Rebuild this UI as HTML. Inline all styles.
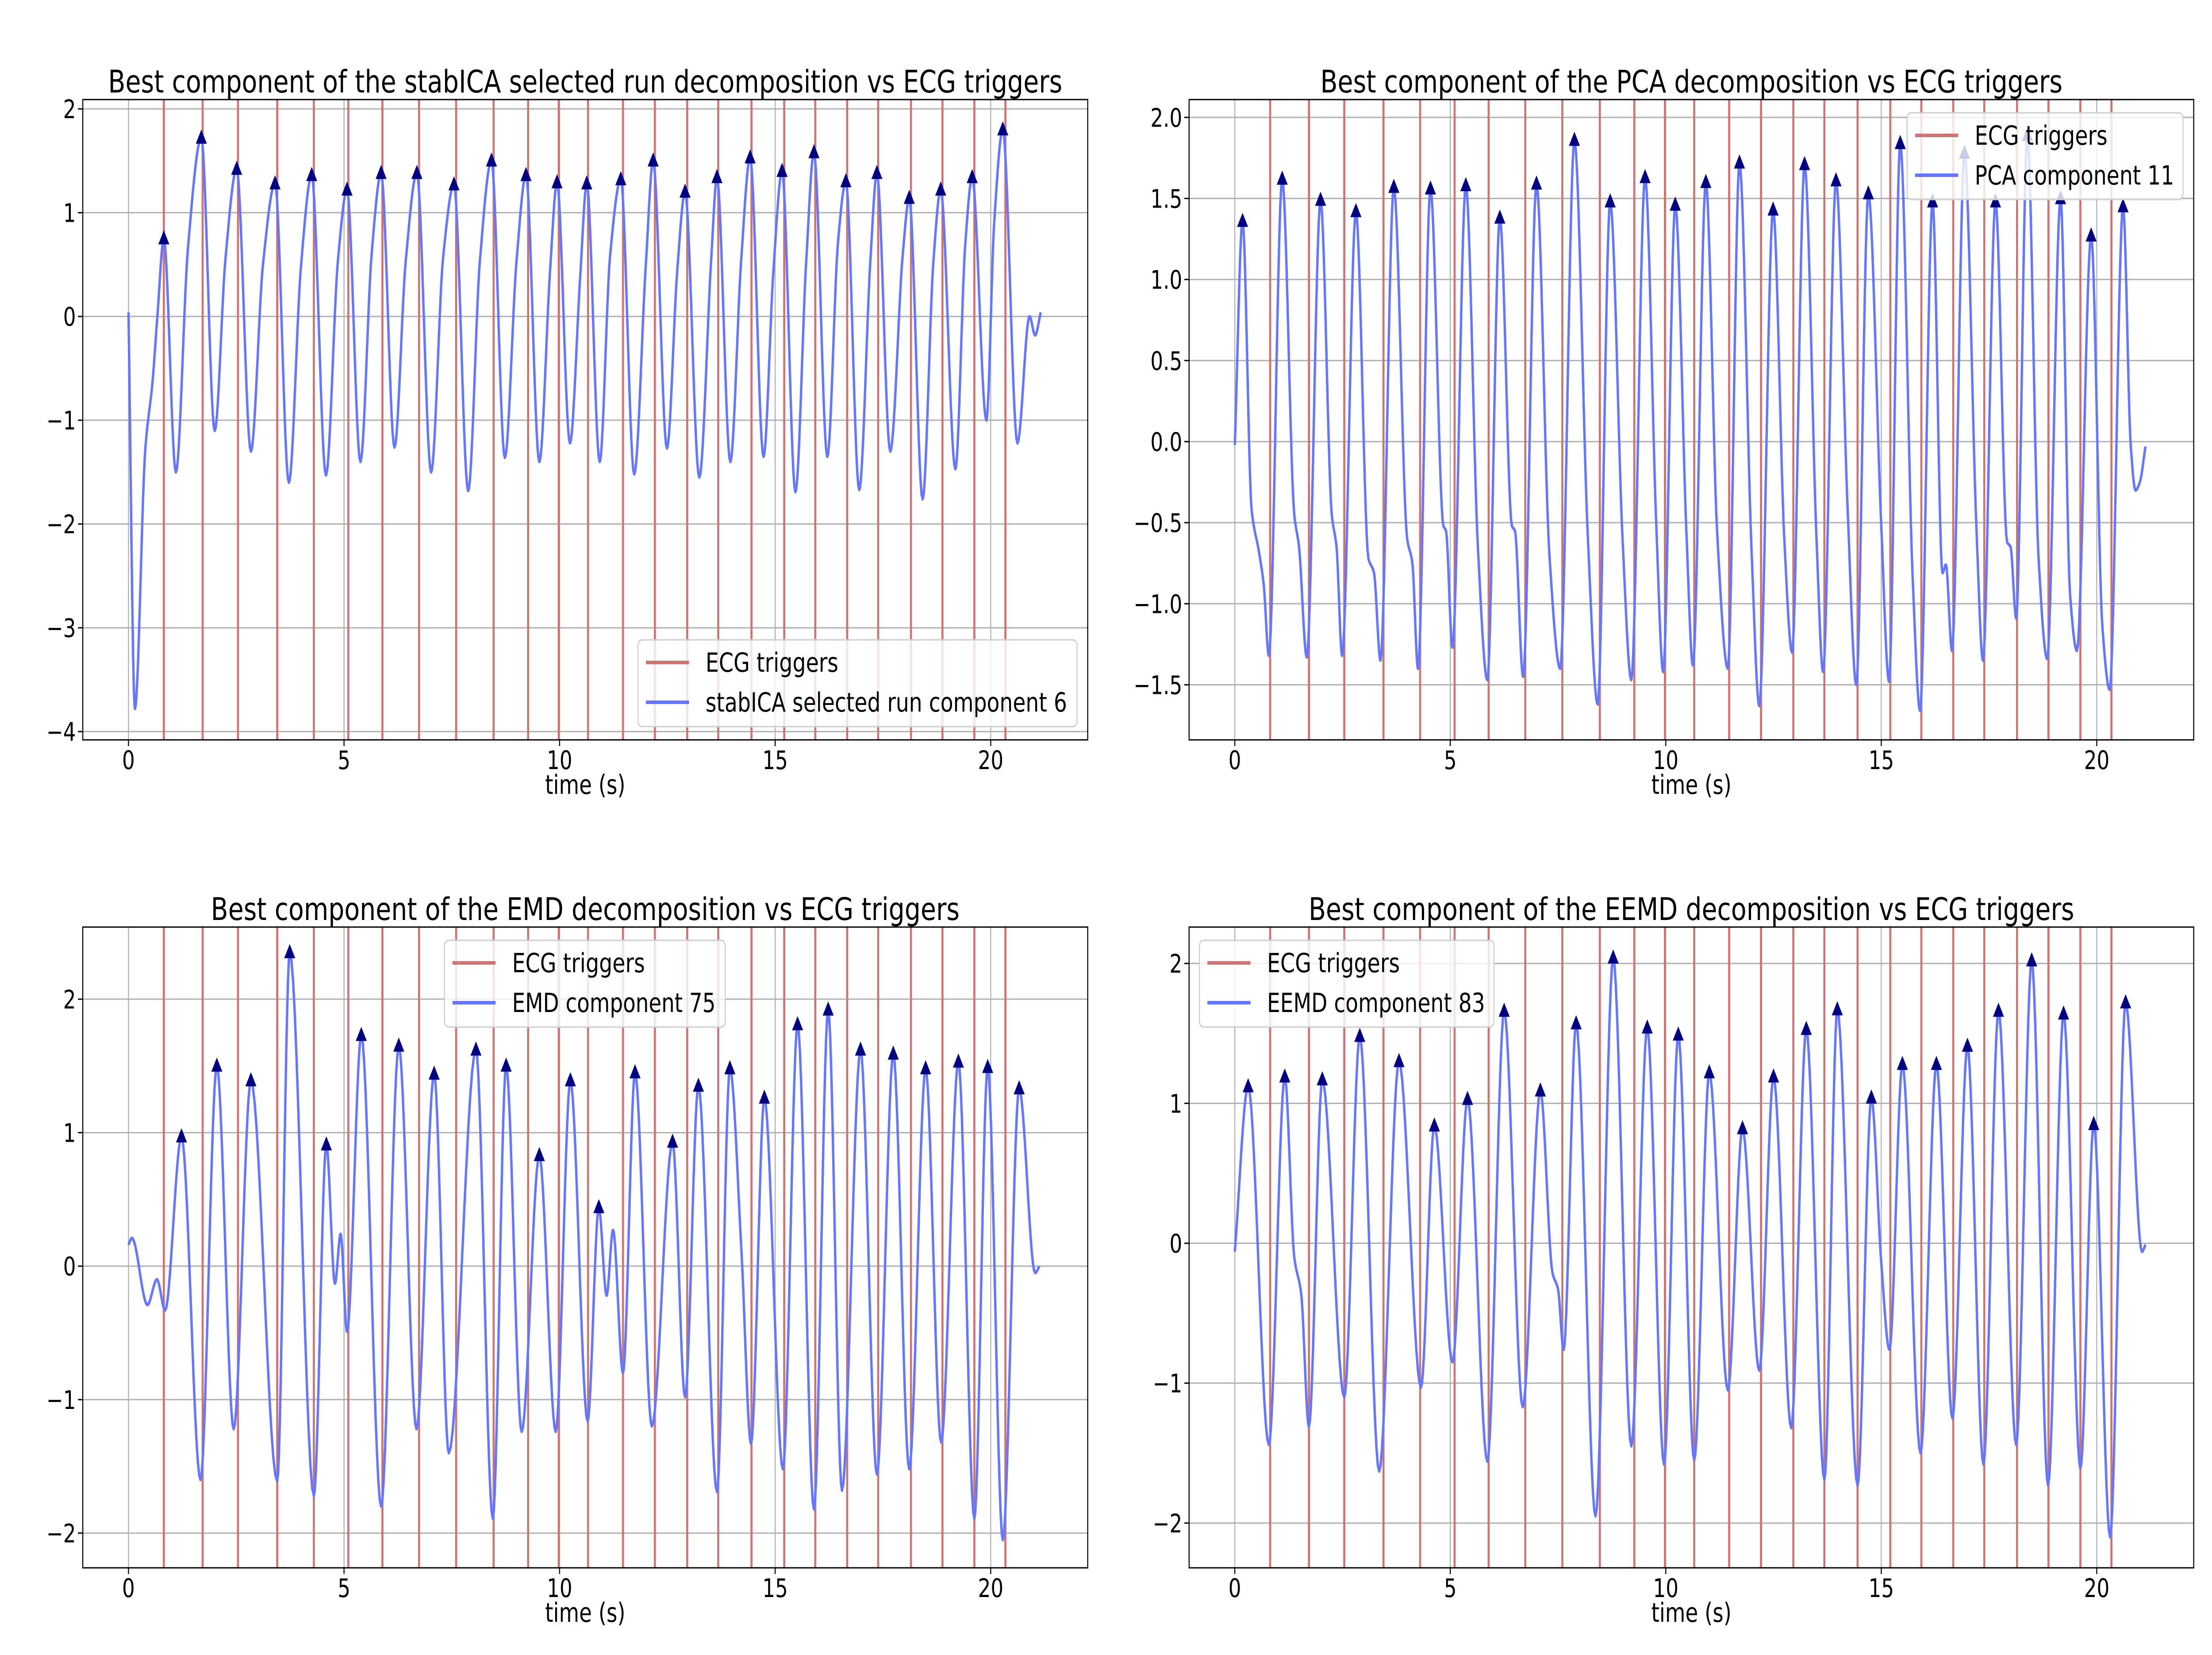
<!DOCTYPE html>
<html><head><meta charset="utf-8"><title>ECG component comparison</title>
<style>html,body{margin:0;padding:0;background:#fff;overflow:hidden;width:100%;height:100%}svg{display:block;position:fixed;left:0;top:0;width:100vw;height:100vh}text{font-family:"DejaVu Sans","Liberation Sans",sans-serif;fill:#000}</style>
</head><body>
<svg id="fig" viewBox="0 0 6414 3740" preserveAspectRatio="none" xmlns="http://www.w3.org/2000/svg">
<rect width="6414" height="3740" fill="#fff"/>
</svg>
<script>
const ecgT=[0.82,1.72,2.54,3.45,4.30,5.10,5.89,6.74,7.60,8.47,9.27,9.98,10.66,11.47,12.21,12.96,13.68,14.45,15.21,15.93,16.67,17.39,18.15,18.88,19.62,20.34];
const xTicks=[0,5,10,15,20];

const icaT=[0,0.15,0.39,0.56,0.67,0.82,1.10,1.38,1.69,2.0,2.25,2.51,2.84,3.12,3.40,3.72,4.0,4.25,4.58,4.86,5.07,5.38,5.64,5.86,6.17,6.43,6.69,7.02,7.30,7.55,7.88,8.15,8.42,8.73,9.0,9.22,9.53,9.78,9.94,10.24,10.48,10.63,10.93,11.17,11.42,11.73,12.0,12.17,12.49,12.73,12.91,13.24,13.52,13.65,13.96,14.21,14.42,14.73,14.96,15.16,15.47,15.72,15.9,16.21,16.46,16.64,16.95,17.21,17.36,17.67,17.96,18.11,18.42,18.67,18.84,19.18,19.41,19.57,19.9,20.08,20.28,20.62,20.9,21.03,21.16];
const icaV=[0.04,-3.78,-1.28,-0.62,0,0.75,-1.5,0.66,1.72,-1.1,0.56,1.42,-1.3,0.5,1.28,-1.6,0.48,1.36,-1.53,0.55,1.22,-1.4,0.6,1.38,-1.26,0.53,1.38,-1.5,0.58,1.27,-1.68,0.53,1.5,-1.36,0.53,1.36,-1.4,0.45,1.29,-1.22,0.4,1.28,-1.4,0.58,1.32,-1.52,0.5,1.5,-1.27,0.45,1.2,-1.55,0.58,1.34,-1.4,0.53,1.53,-1.35,0.45,1.4,-1.69,0.53,1.58,-1.35,0.73,1.3,-1.67,0.55,1.38,-1.3,0.6,1.14,-1.76,0.53,1.22,-1.47,0.7,1.34,-1.0,0.9,1.8,-1.22,0,-0.18,0.04];
const icaPeakT=[0.82,1.69,2.51,3.40,4.25,5.07,5.86,6.69,7.55,8.42,9.22,9.94,10.63,11.42,12.17,12.91,13.65,14.42,15.16,15.9,16.64,17.36,18.11,18.84,19.57,20.28];
const icaPeakV=[0.75,1.72,1.42,1.28,1.36,1.22,1.38,1.38,1.27,1.5,1.36,1.29,1.28,1.32,1.5,1.2,1.34,1.53,1.4,1.58,1.3,1.38,1.14,1.22,1.34,1.8];
const icaYTicks=[-4,-3,-2,-1,0,1,2];
const icaYTickLabels=["\u22124","\u22123","\u22122","\u22121","0","1","2"];

const pcaT=[0,0.18,0.39,0.56,0.67,0.79,1.10,1.38,1.49,1.67,1.99,2.25,2.36,2.49,2.81,3.10,3.23,3.38,3.69,4.0,4.12,4.25,4.54,4.84,4.9,5.05,5.36,5.64,5.86,6.15,6.43,6.5,6.69,7.0,7.3,7.55,7.88,8.19,8.42,8.71,9.0,9.2,9.52,9.78,9.94,10.22,10.48,10.63,10.93,11.19,11.44,11.71,11.99,12.17,12.49,12.75,12.93,13.22,13.5,13.65,13.95,14.22,14.42,14.7,15.0,15.18,15.44,15.73,15.9,16.19,16.42,16.5,16.64,16.93,17.21,17.36,17.65,17.92,18.0,18.13,18.39,18.65,18.85,19.16,19.38,19.54,19.87,20.13,20.3,20.61,20.79,20.9,21.0,21.13];
const pcaV=[-0.02,1.36,-0.42,-0.68,-0.88,-1.32,1.62,-0.45,-0.65,-1.33,1.49,-0.45,-0.65,-1.32,1.42,-0.72,-0.81,-1.35,1.57,-0.6,-0.75,-1.40,1.56,-0.52,-0.55,-1.27,1.58,-0.65,-1.47,1.38,-0.52,-0.55,-1.45,1.59,-0.70,-1.40,1.86,-0.58,-1.62,1.48,-0.62,-1.47,1.63,-0.52,-1.42,1.46,-0.57,-1.38,1.60,-0.55,-1.40,1.72,-0.67,-1.63,1.43,-0.6,-1.3,1.71,-0.62,-1.42,1.61,-0.42,-1.5,1.53,-0.52,-1.48,1.84,-0.85,-1.66,1.48,-0.81,-0.76,-1.29,1.78,-0.55,-1.35,1.48,-0.62,-0.65,-1.09,1.89,-0.72,-1.34,1.5,-0.94,-1.29,1.27,-1.14,-1.53,1.45,-0.03,-0.3,-0.25,-0.03];
const pcaPeakT=[0.18,1.10,1.99,2.81,3.69,4.54,5.36,6.15,7.0,7.88,8.71,9.52,10.22,10.93,11.71,12.49,13.22,13.95,14.7,15.44,16.19,16.93,17.65,18.39,19.16,19.87,20.61];
const pcaPeakV=[1.36,1.62,1.49,1.42,1.57,1.56,1.58,1.38,1.59,1.86,1.48,1.63,1.46,1.60,1.72,1.43,1.71,1.61,1.53,1.84,1.48,1.78,1.48,1.89,1.5,1.27,1.45];
const pcaYTicks=[-1.5,-1.0,-0.5,0,0.5,1.0,1.5,2.0];
const pcaYTickLabels=["\u22121.5","\u22121.0","\u22120.5","0.0","0.5","1.0","1.5","2.0"];

const emdT=[0,0.08,0.44,0.66,0.85,1.23,1.67,2.05,2.44,2.84,3.45,3.74,4.3,4.59,4.79,4.92,5.07,5.4,5.86,6.27,6.68,7.09,7.43,8.06,8.45,8.76,9.12,9.53,9.91,10.25,10.65,10.91,11.09,11.24,11.47,11.75,12.14,12.62,12.91,13.22,13.65,13.95,14.22,14.44,14.75,15.18,15.52,15.9,16.23,16.55,16.98,17.36,17.74,18.11,18.49,18.85,19.25,19.62,19.93,20.28,20.66,21.03,21.13];
const emdV=[0.16,0.21,-0.29,-0.1,-0.33,0.97,-1.6,1.5,-1.22,1.39,-1.61,2.35,-1.72,0.91,-0.13,0.24,-0.49,1.73,-1.8,1.65,-1.22,1.44,-1.4,1.62,-1.89,1.5,-1.24,0.83,-1.24,1.39,-1.16,0.44,-0.22,0.27,-0.8,1.45,-1.2,0.93,-0.98,1.35,-1.69,1.48,0.1,-1.33,1.26,-1.52,1.81,-1.82,1.92,-1.68,1.62,-1.56,1.59,-1.52,1.48,-1.32,1.53,-1.89,1.49,-2.05,1.33,-0.05,0];
const emdPeakT=[1.23,2.05,2.84,3.74,4.59,5.4,6.27,7.09,8.06,8.76,9.53,10.25,10.91,11.75,12.62,13.22,13.95,14.75,15.52,16.23,16.98,17.74,18.49,19.25,19.93,20.66];
const emdPeakV=[0.97,1.5,1.39,2.35,0.91,1.73,1.65,1.44,1.62,1.5,0.83,1.39,0.44,1.45,0.93,1.35,1.48,1.26,1.81,1.92,1.62,1.59,1.48,1.53,1.49,1.33];
const emdYTicks=[-2,-1,0,1,2];
const emdYTickLabels=["\u22122","\u22121","0","1","2"];

const eemdT=[0,0.31,0.79,1.16,1.38,1.54,1.72,2.03,2.54,2.9,3.35,3.81,4.32,4.63,5.05,5.4,5.86,6.25,6.68,7.09,7.37,7.5,7.63,7.92,8.37,8.78,9.2,9.57,9.96,10.29,10.66,11.01,11.44,11.78,12.17,12.5,12.91,13.26,13.68,13.98,14.45,14.77,15.0,15.19,15.49,15.91,16.28,16.65,17.0,17.37,17.72,18.13,18.49,18.87,19.23,19.62,19.93,20.31,20.67,21.05,21.13];
const eemdV=[-0.06,1.12,-1.44,1.19,-0.1,-0.36,-1.31,1.17,-1.1,1.48,-1.63,1.3,-1.03,0.84,-0.85,1.03,-1.56,1.66,-1.17,1.09,-0.21,-0.33,-0.76,1.57,-1.95,2.04,-1.45,1.54,-1.58,1.49,-1.55,1.22,-1.05,0.82,-0.91,1.19,-1.32,1.53,-1.69,1.67,-1.73,1.04,-0.14,-0.76,1.28,-1.5,1.28,-1.25,1.41,-1.58,1.66,-1.44,2.02,-1.73,1.64,-1.61,0.85,-2.1,1.72,-0.06,-0.01];
const eemdPeakT=[0.31,1.16,2.03,2.9,3.81,4.63,5.4,6.25,7.09,7.92,8.78,9.57,10.29,11.01,11.78,12.5,13.26,13.98,14.77,15.49,16.28,17.0,17.72,18.49,19.23,19.93,20.67];
const eemdPeakV=[1.12,1.19,1.17,1.48,1.3,0.84,1.03,1.66,1.09,1.57,2.04,1.54,1.49,1.22,0.82,1.19,1.53,1.67,1.04,1.28,1.28,1.41,1.66,2.02,1.64,0.85,1.72];
const eemdYTicks=[-2,-1,0,1,2];
const eemdYTickLabels=["\u22122","\u22121","0","1","2"];

const NS="http://www.w3.org/2000/svg";
const svg=document.getElementById('fig');
function mk(tag,attrs,parent){const e=document.createElementNS(NS,tag);for(const k in attrs)e.setAttribute(k,attrs[k]);(parent||svg).appendChild(e);return e;}

function monotone(xs,ys){
  const n=Math.min(xs.length,ys.length);const d=[],m=new Array(n).fill(0);
  for(let i=0;i<n-1;i++)d.push((ys[i+1]-ys[i])/(xs[i+1]-xs[i]));
  m[0]=d[0];m[n-1]=d[n-2];
  for(let i=1;i<n-1;i++){if(d[i-1]*d[i]<=0)m[i]=0;else{const w1=2*(xs[i+1]-xs[i])+(xs[i]-xs[i-1]),w2=(xs[i+1]-xs[i])+2*(xs[i]-xs[i-1]);m[i]=(w1+w2)/(w1/d[i-1]+w2/d[i]);}}
  const pts=[];
  for(let i=0;i<n-1;i++){const h=xs[i+1]-xs[i];const S=14;
    for(let s=0;s<S;s++){const t=s/S,t2=t*t,t3=t2*t;
      const y=(2*t3-3*t2+1)*ys[i]+(t3-2*t2+t)*h*m[i]+(-2*t3+3*t2)*ys[i+1]+(t3-t2)*h*m[i+1];
      pts.push([xs[i]+t*h,y]);}}
  pts.push([xs[n-1],ys[n-1]]);return pts;
}

function panel(cfg){
  const g=mk('g',{});
  
  
  const L=cfg.x0,R=cfg.x1,T=cfg.y0,B=cfg.y1;
  const xmin=-1.06,xmax=22.25;
  const sx=v=>L+(v-xmin)/(xmax-xmin)*(R-L);
  const sy=v=>B-(v-cfg.ymin)/(cfg.ymax-cfg.ymin)*(B-T);
  const cp='clip-'+cfg.name;
  const cpe=mk('clipPath',{id:cp},g);mk('rect',{x:L,y:T,width:R-L,height:B-T},cpe);
  xTicks.forEach(v=>{const l=mk('line',{x1:sx(v),x2:sx(v),y1:T,y2:B,stroke:'#b0b0b0','stroke-width':3},g);
    
    });
  cfg.yt.forEach(v=>{const l=mk('line',{x1:L,x2:R,y1:sy(v),y2:sy(v),stroke:'#b0b0b0','stroke-width':3},g);
    
    });
  ecgT.forEach(v=>{const l=mk('line',{x1:sx(v),x2:sx(v),y1:T,y2:B,stroke:'#cd7474','stroke-width':6},g);
    
    });
  const pts=monotone(cfg.t,cfg.v);
  const p=mk('path',{d:'M'+pts.map(q=>sx(q[0]).toFixed(1)+','+sy(q[1]).toFixed(1)).join('L'),fill:'none',stroke:'#6677ff','stroke-width':7,'stroke-linejoin':'round','clip-path':'url(#'+cp+')'},g);
  
  
  cfg.pt.forEach((tv,i)=>{const x=sx(tv),y=sy(cfg.pv[i]);
    const m=mk('polygon',{points:`${x},${y-19} ${x-16},${y+13} ${x+16},${y+13}`,fill:'#000080'},g);
    
    });
  const sp=mk('rect',{x:L,y:T,width:R-L,height:B-T,fill:'none',stroke:'#000','stroke-width':3},g);
  
  
  xTicks.forEach(v=>{mk('line',{x1:sx(v),x2:sx(v),y1:B,y2:B+14,stroke:'#000','stroke-width':3},g);
    const t=mk('text',{x:sx(v),y:B+66,'font-size':58,'text-anchor':'middle'},g);t.textContent=String(v);
    
    });
  cfg.yt.forEach((v,i)=>{mk('line',{x1:L-14,x2:L,y1:sy(v),y2:sy(v),stroke:'#000','stroke-width':3},g);
    const t=mk('text',{x:L-20,y:sy(v)+21,'font-size':58,'text-anchor':'end'},g);t.textContent=cfg.ytl[i];
    
    });
  const xl=mk('text',{x:(L+R)/2,y:B+122,'font-size':60,'text-anchor':'middle'},g);xl.textContent='time (s)';
  
  
  const ti=mk('text',{x:(L+R)/2,y:T-16,'font-size':70,'text-anchor':'middle',textLength:cfg.titleW,lengthAdjust:'spacingAndGlyphs'},g);ti.textContent=cfg.title;
  
  
  const lg=cfg.leg;
  const lgG=mk('g',{},g);
  
  
  mk('rect',{x:lg.x,y:lg.y,width:lg.w,height:196,rx:12,fill:'rgba(255,255,255,0.8)',stroke:'#cccccc','stroke-width':3},lgG);
  const ent=[['ECG triggers','#cd7474',lg.w1],[cfg.label,'#6677ff',lg.w2]];
  ent.forEach((e,i)=>{const yy=lg.y+51+i*90;
    const ln=mk('line',{x1:lg.x+23,x2:lg.x+148,y1:yy,y2:yy,stroke:e[1],'stroke-width':8},lgG);
    
    
    const tx=mk('text',{x:lg.x+196,y:yy+21,'font-size':60,textLength:e[2],lengthAdjust:'spacingAndGlyphs'},lgG);tx.textContent=e[0];
    
    });
}

panel({name:'stabica-panel',x0:240,x1:3154,y0:225,y1:1672,ymin:-4.08,ymax:2.09,yt:icaYTicks,ytl:icaYTickLabels,t:icaT,v:icaV,pt:icaPeakT,pv:icaPeakV,
  title:'Best component of the stabICA selected run decomposition vs ECG triggers',titleW:2767,label:'stabICA selected run component 6',
  leg:{x:1850,y:1446,w:1273,w1:385,w2:1048}});
panel({name:'pca-panel',x0:3448,x1:6361,y0:225,y1:1672,ymin:-1.84,ymax:2.11,yt:pcaYTicks,ytl:pcaYTickLabels,t:pcaT,v:pcaV,pt:pcaPeakT,pv:pcaPeakV,
  title:'Best component of the PCA decomposition vs ECG triggers',titleW:2152,label:'PCA component 11',
  leg:{x:5530,y:255,w:800,w1:385,w2:578}});
panel({name:'emd-panel',x0:240,x1:3154,y0:2095,y1:3543,ymin:-2.26,ymax:2.54,yt:emdYTicks,ytl:emdYTickLabels,t:emdT,v:emdV,pt:emdPeakT,pv:emdPeakV,
  title:'Best component of the EMD decomposition vs ECG triggers',titleW:2171,label:'EMD component 75',
  leg:{x:1289,y:2125,w:814,w1:385,w2:590}});
panel({name:'eemd-panel',x0:3448,x1:6361,y0:2095,y1:3543,ymin:-2.32,ymax:2.26,yt:eemdYTicks,ytl:eemdYTickLabels,t:eemdT,v:eemdV,pt:eemdPeakT,pv:eemdPeakV,
  title:'Best component of the EEMD decomposition vs ECG triggers',titleW:2220,label:'EEMD component 83',
  leg:{x:3478,y:2125,w:854,w1:385,w2:632}});
</script>
</body></html>
